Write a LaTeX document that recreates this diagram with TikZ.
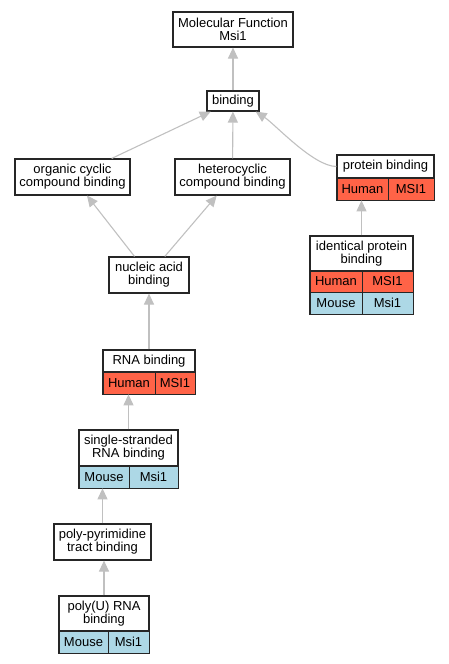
\documentclass[tikz,border=0pt]{standalone}
\usepackage{fontspec}
\setmainfont{Liberation Sans}
\usetikzlibrary{arrows.meta}
\definecolor{human}{HTML}{FF6347}
\definecolor{mouse}{HTML}{ADD8E6}
\definecolor{edgegray}{HTML}{C0C0C0}
\begin{document}
\begin{tikzpicture}[x=1pt,y=-1pt,
    term/.style={draw=black!85, line width=1.1pt, fill=white, inner sep=0pt, align=center, font=\fontsize{13}{13}\selectfont},
    cell/.style={draw=black!85, line width=0.8pt, inner sep=0pt, minimum height=22, font=\fontsize{13}{13}\selectfont},
    isa/.style={draw=edgegray, line width=1.1pt, -{Triangle[length=11pt,width=10pt]}},
    frame/.style={draw=black!85, line width=1.3pt}]
    \useasboundingbox (0,0) rectangle (449,664);
    \node[term, minimum width=120, minimum height=35] (mf) at (233,29.5) {Molecular Function\\Msi1};
    \node[term, minimum width=52, minimum height=20] (bind) at (233,101) {binding};
    \node[term, minimum width=115, minimum height=36] (oc) at (72.5,177) {organic cyclic\\compound binding};
    \node[term, minimum width=115, minimum height=36] (hc) at (232.5,177) {heterocyclic\\compound binding};
% protein binding
    \node[term, minimum width=97, minimum height=23] (pbt) at (385.5,166.5) {protein binding};
    \node[cell, fill=human, minimum width=51] (pbh) at (362.5,189) {Human};
    \node[cell, fill=human, minimum width=46] (pbg) at (411,189) {MSI1};
    \draw[frame] (pbt.north west) rectangle (pbg.south east);
% identical protein binding
    \node[term, minimum width=103, minimum height=35] (ipt) at (361.5,253.5) {identical protein\\binding};
    \node[cell, fill=human, minimum width=52, minimum height=21] (iph) at (336,281.5) {Human};
    \node[cell, fill=human, minimum width=51, minimum height=21] (ipg) at (387.5,281.5) {MSI1};
    \node[cell, fill=mouse, minimum width=52] (ipm) at (336,303) {Mouse};
    \node[cell, fill=mouse, minimum width=51] (ipn) at (387.5,303) {Msi1};
    \draw[frame] (ipt.north west) rectangle (ipn.south east);
    \node[term, minimum width=80, minimum height=36] (nab) at (149,275) {nucleic acid\\binding};
% RNA binding
    \node[term, minimum width=92, minimum height=22] (rbt) at (149,361) {RNA binding};
    \node[cell, fill=human, minimum width=52] (rbh) at (129,383) {Human};
    \node[cell, fill=human, minimum width=40] (rbg) at (175,383) {MSI1};
    \draw[frame] (rbt.north west) rectangle (rbg.south east);
% single-stranded RNA binding
    \node[term, minimum width=99, minimum height=36] (sst) at (128.5,448) {single-stranded\\RNA binding};
    \node[cell, fill=mouse, minimum width=50] (ssm) at (104,477) {Mouse};
    \node[cell, fill=mouse, minimum width=49] (ssn) at (153.5,477) {Msi1};
    \draw[frame] (sst.north west) rectangle (ssn.south east);
    \node[term, minimum width=97, minimum height=36] (ppt) at (102.5,542) {poly-pyrimidine\\tract binding};
% poly(U) RNA binding
    \node[term, minimum width=90, minimum height=35] (put) at (104,613.5) {poly(U) RNA\\binding};
    \node[cell, fill=mouse, minimum width=49] (pum) at (83.5,642) {Mouse};
    \node[cell, fill=mouse, minimum width=41] (pun) at (128.5,642) {Msi1};
    \draw[frame] (put.north west) rectangle (pun.south east);
% is_a edges
    \draw[isa] (bind) -- (mf);
    \draw[isa] (oc) -- (bind);
    \draw[isa] (hc) -- (bind);
    \draw[isa] (pbt.west) to[out=180, in=-33, looseness=0.6] (bind.-25);
    \draw[isa] (ipt.north) -- (ipt.north |- pbh.south);
    \draw[isa] (nab) -- (oc);
    \draw[isa] (nab) -- (hc);
    \draw[isa] (rbt) -- (nab);
    \draw[isa] (sst.north) -- (sst.north |- rbh.south);
    \draw[isa] (ppt.north) -- (ppt.north |- ssm.south);
    \draw[isa] (put.north) -- (put.north |- ppt.south);
\end{tikzpicture}
\end{document}
